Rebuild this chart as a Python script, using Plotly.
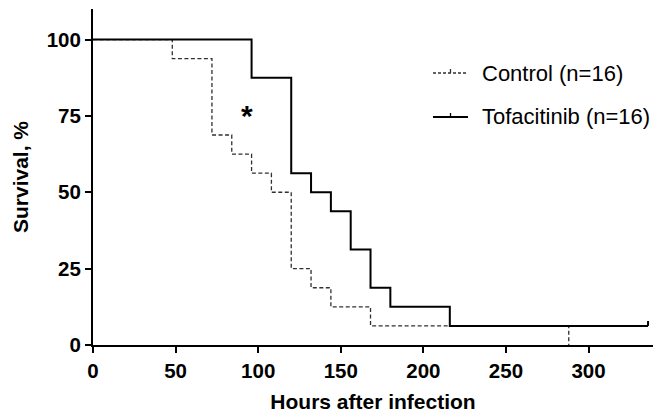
import plotly.graph_objects as go

# ---- data ----
control_hours = [0, 48, 72, 84, 96, 108, 120, 132, 144, 168, 288]
control_surv = [100, 93.75, 68.75, 62.5, 56.25, 50, 25, 18.75, 12.5, 6.25, 0]

tofa_hours = [0, 96, 120, 132, 144, 156, 168, 180, 216, 336]
tofa_surv = [100, 87.5, 56.25, 50, 43.75, 31.25, 18.75, 12.5, 6.25, 6.25]

tofa_censor_hours = [336]
tofa_censor_surv = [6.25]

legend_labels = ["Control (n=16)", "Tofacitinib (n=16)"]
x_ticks = [0, 50, 100, 150, 200, 250, 300]
y_ticks = [0, 25, 50, 75, 100]

FONT = "Arial, 'Liberation Sans', Helvetica, sans-serif"
TICK_UP = 1.6  # censor tick height in survival units

fig = go.Figure()

fig.add_trace(go.Scatter(
    x=control_hours, y=control_surv, mode="lines",
    line=dict(shape="hv", color="#303030", width=1.3, dash="4px,2.5px"),
    showlegend=False, hoverinfo="skip"))

fig.add_trace(go.Scatter(
    x=tofa_hours, y=tofa_surv, mode="lines",
    line=dict(shape="hv", color="black", width=2),
    showlegend=False, hoverinfo="skip"))

# censor marks (short upward ticks)
for cx, cy in zip(tofa_censor_hours, tofa_censor_surv):
    fig.add_trace(go.Scatter(
        x=[cx, cx], y=[cy, cy + TICK_UP], mode="lines",
        line=dict(color="black", width=2),
        showlegend=False, hoverinfo="skip"))

L, R, T, B = 93, 1, 9, 70
W, H = 654, 415
pw, ph = W - L - R, H - T - B

def px(xp):
    return (xp - L) / pw

def py(yp):
    return (H - B - yp) / ph

shapes = []
annotations = []
legend_rows = [(73, dict(color="#303030", width=1.3, dash="3px,2px")),
               (117, dict(color="black", width=2))]
for (yp, ln), label in zip(legend_rows, legend_labels):
    shapes.append(dict(type="line", xref="paper", yref="paper",
                       x0=px(433), x1=px(468), y0=py(yp), y1=py(yp), line=ln))
    shapes.append(dict(type="line", xref="paper", yref="paper",
                       x0=px(450.5), x1=px(450.5), y0=py(yp), y1=py(yp - 4),
                       line=dict(color=ln["color"], width=1.3)))
    annotations.append(dict(text=label, xref="paper", yref="paper",
                            x=px(480), y=py(yp), xanchor="left", yanchor="middle",
                            showarrow=False,
                            font=dict(family=FONT, size=22, color="black")))

annotations.append(dict(text="<b>*</b>", x=93.5, y=75, xref="x", yref="y",
                        xanchor="center", yanchor="middle", showarrow=False,
                        font=dict(family=FONT, size=30, color="black")))

fig.update_layout(
    width=W, height=H,
    margin=dict(l=L, r=R, t=T, b=B),
    paper_bgcolor="white", plot_bgcolor="white",
    font=dict(family=FONT, color="black"),
    shapes=shapes, annotations=annotations,
    xaxis=dict(range=[0, 339], tickvals=x_ticks,
               ticktext=[f"<b>{v}</b>" for v in x_ticks],
               showgrid=False, zeroline=False, showline=True,
               linecolor="black", linewidth=2,
               ticks="outside", ticklen=6, tickwidth=2, tickcolor="black",
               tickfont=dict(family=FONT, size=20.5, color="black"),
               title=dict(text="<b>Hours after infection</b>", standoff=14,
                          font=dict(family=FONT, size=21, color="black"))),
    yaxis=dict(range=[0, 110], tickvals=y_ticks,
               ticktext=[f"<b>{v}</b>" for v in y_ticks],
               showgrid=False, zeroline=False, showline=True,
               linecolor="black", linewidth=2,
               ticks="outside", ticklen=6, tickwidth=2, tickcolor="black",
               tickfont=dict(family=FONT, size=20.5, color="black"),
               title=dict(text="<b>Survival, %</b>", standoff=12,
                          font=dict(family=FONT, size=21, color="black"))),
)

fig.write_html("out.html", config={"displayModeBar": False},
               post_script="document.body.style.margin='0';document.body.style.overflow='hidden';")
